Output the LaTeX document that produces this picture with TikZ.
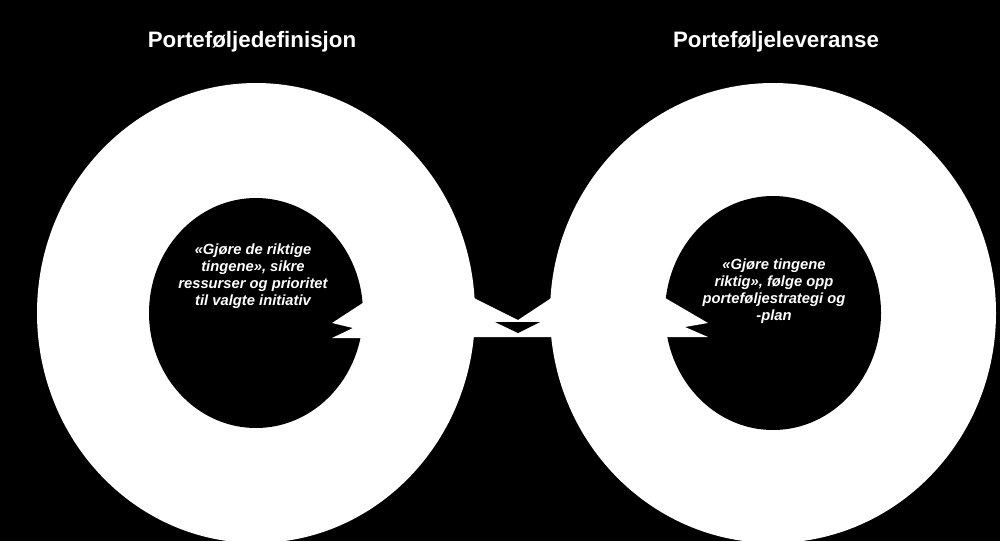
\documentclass[tikz,border=0pt]{standalone}
\usepackage{fontspec}
\setmainfont{Liberation Sans}
\tikzset{
  ringfill/.style= {
    fill = white
  },
  holefill/.style= {
    fill = black
  },
  heading/.style= {
    text = white,
    inner sep = 0pt,
    font = \bfseries\fontsize{12.7}{15}\selectfont
  },
  ringtext/.style= {
    text = white,
    align = center,
    inner sep = 0pt,
    font = \bfseries\itshape\fontsize{8.4}{9.6}\selectfont
  }
}
\begin{document}
\begin{tikzpicture}[x=0.02cm,y=-0.02cm]
  \fill[black] (0,0) rectangle (1000,541);
  \useasboundingbox (0,0) rectangle (1000,541);

  \coordinate (lc) at (256,313);
  \coordinate (rc) at (773,313);

  % the two rings and the band between them
  \fill[ringfill] (lc) ellipse [x radius=219, y radius=230];
  \fill[ringfill] (rc) ellipse [x radius=223, y radius=230];
  \fill[ringfill] (460,291) -- (518,320) -- (565,289) -- (565,337) -- (460,337) -- cycle;
  \fill[holefill] (495,322) -- (540,322) -- (518,333) -- cycle;

  % holes
  \fill[holefill] (lc) ellipse [x radius=107, y radius=115];
  \fill[holefill] (rc) ellipse [x radius=108, y radius=117];

  % arrow tips into the holes
  \fill[ringfill] (375,295) -- (332,323) -- (353,328) -- (332,338) -- (375,338) -- cycle;
  \fill[ringfill] (660,295) -- (708,323) -- (685,327) -- (708,337) -- (660,337) -- cycle;

  \node[heading] (deftitle) at (252,42) {Porteføljedefinisjon};
  \node[heading] (levtitle) at (776,42) {Porteføljeleveranse};

  \node[ringtext] (deftext) at (253,276) {«Gjøre de riktige\\tingene», sikre\\ressurser og prioritet\\til valgte initiativ};
  \node[ringtext] (levtext) at (774,291) {«Gjøre tingene\\riktig», følge opp\\porteføljestrategi og\\-plan};
\end{tikzpicture}
\end{document}
